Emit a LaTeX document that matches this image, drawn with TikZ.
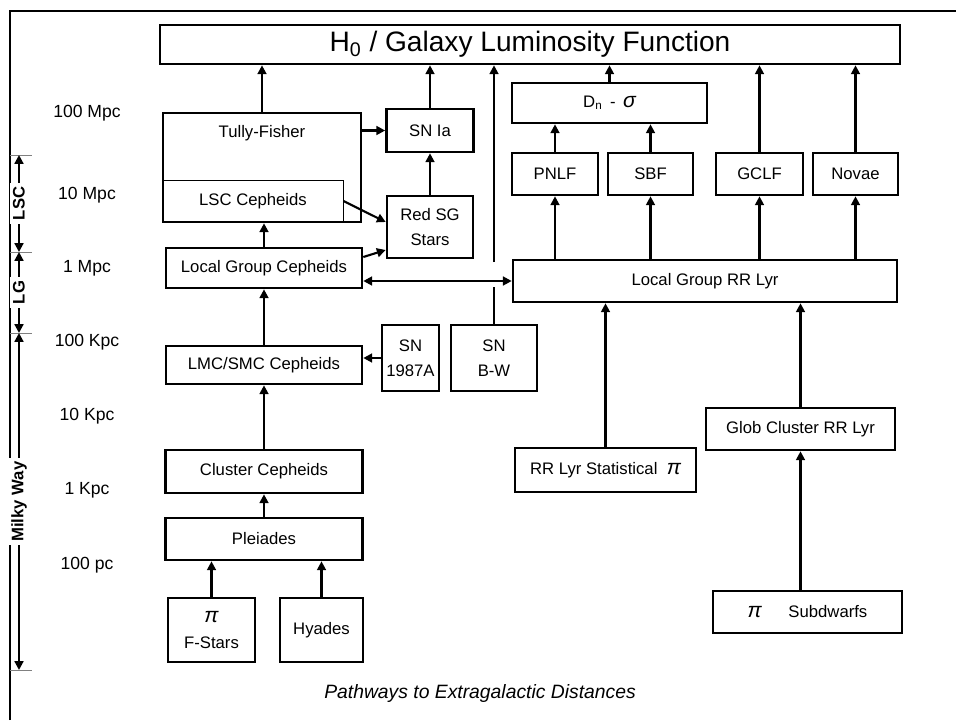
\documentclass[tikz,border=0pt]{standalone}
\usepackage{fontspec}
\setmainfont{Liberation Sans}
\usetikzlibrary{arrows.meta}

\begin{document}
\begin{tikzpicture}[x=0.02cm,y=-0.02cm,
  box/.style={draw,line width=1.5pt,inner sep=0pt,align=center,font=\fontsize{9.5}{14.5}\selectfont},
  arr/.style={line width=1.2pt,-{Triangle[length=5pt,width=5pt]}},
  both/.style={line width=1.2pt,{Triangle[length=5pt,width=5pt]}-{Triangle[length=5pt,width=5pt]}},
  dist/.style={font=\fontsize{10}{12}\selectfont},
  band/.style={midway,fill=white,rotate=90,inner sep=2pt,font=\bfseries\fontsize{9.5}{11}\selectfont},
  tick/.style={gray,line width=0.5pt}]
\useasboundingbox (0,0) rectangle (956,720);
\draw[line width=1.2pt] (10,720) -- (10,11) -- (956,11);

% distance scale
\node[dist] (d1) at (87,113) {100 Mpc};
\node[dist] (d2) at (87,195) {10 Mpc};
\node[dist] (d3) at (87,268) {1 Mpc};
\node[dist] (d4) at (87,342) {100 Kpc};
\node[dist] (d5) at (87,416) {10 Kpc};
\node[dist] (d6) at (87,490) {1 Kpc};
\node[dist] (d7) at (87,565) {100 pc};
\foreach \y/\n in {155/ta,252/tb,333/tc,670/td}{
  \coordinate (\n) at (19,\y);
  \draw[tick] (10,\y) -- (32,\y);
}
\draw[both] (ta) -- (tb) node[band] {LSC};
\draw[both] (tb) -- (tc) node[band] {LG};
\draw[both] (tc) -- (td) node[band] {Milky Way};

% boxes
\node[box,minimum width=14.8cm,minimum height=0.78cm,font=\fontsize{16}{18}\selectfont] (h0) at (530,44.5) {H\textsubscript{0} / Galaxy Luminosity Function};
\node[box,minimum width=3.96cm,minimum height=2.18cm] (tf) at (262,167.5) {};
\node[font=\fontsize{9.5}{11}\selectfont] (tftext) at (262,133) {Tully-Fisher};
\node[box,line width=0.5pt,minimum width=3.6cm,minimum height=0.84cm] (lscc) at (253,201) {LSC Cepheids};
\node[box,minimum width=1.74cm,minimum height=0.86cm] (snia) at (430,130.5) {SN Ia};
\node[box,minimum width=1.72cm,minimum height=1.24cm] (redsg) at (430,227) {Red SG\\Stars};
\node[box,minimum width=3.92cm,minimum height=0.8cm] (lgc) at (264,268) {Local Group Cepheids};
\node[box,minimum width=3.92cm,minimum height=0.76cm] (lmc) at (264,365) {LMC/SMC Cepheids};
\node[box,minimum width=1.14cm,minimum height=1.32cm] (sn87) at (410.5,358) {SN\\1987A};
\node[box,minimum width=1.72cm,minimum height=1.32cm] (snbw) at (494,358) {SN\\B-W};
\node[box,minimum width=3.94cm,minimum height=0.86cm] (clc) at (264,471.5) {Cluster Cepheids};
\node[box,minimum width=3.94cm,minimum height=0.84cm] (plei) at (264,539) {Pleiades};
\node[box,minimum width=1.74cm,minimum height=1.28cm] (fstar) at (211.5,630) {{\large\itshape π}\\F-Stars};
\node[box,minimum width=1.66cm,minimum height=1.28cm] (hyad) at (321.5,630) {Hyades};

\node[box,minimum width=3.9cm,minimum height=0.8cm] (dns) at (609.5,103) {D\textsubscript{n} \,-\, {\large\itshape σ}};
\node[box,minimum width=1.72cm,minimum height=0.84cm] (pnlf) at (555,174) {PNLF};
\node[box,minimum width=1.7cm,minimum height=0.84cm] (sbf) at (650.5,174) {SBF};
\node[box,minimum width=1.74cm,minimum height=0.84cm] (gclf) at (759.5,174) {GCLF};
\node[box,minimum width=1.7cm,minimum height=0.84cm] (novae) at (855.5,174) {Novae};
\node[box,minimum width=7.68cm,minimum height=0.84cm] (lgrr) at (705,281) {Local Group RR Lyr};
\node[box,minimum width=3.62cm,minimum height=0.88cm] (rrst) at (605.5,470) {RR Lyr Statistical\ \ {\large\itshape π}};
\node[box,minimum width=3.78cm,minimum height=0.84cm] (glob) at (800.5,429) {Glob Cluster RR Lyr};
\node[box,minimum width=3.78cm,minimum height=0.84cm] (subd) at (807.5,612) {{\large\itshape π}\hspace{1.6em}Subdwarfs};

% connections
\draw[arr] (tf.north) -- (tf.north |- h0.south);
\draw[arr] (snia.north) -- (snia.north |- h0.south);
\draw[arr] (dns.north) -- (dns.north |- h0.south);
\draw[arr] (gclf.north) -- (gclf.north |- h0.south);
\draw[arr] (novae.north) -- (novae.north |- h0.south);
\draw[arr] (snia.west -| tf.east) -- (snia.west);
\draw[arr] (redsg.north) -- (snia.south);
\draw[arr] (lscc.east) -- ([yshift=0.1cm]redsg.west);
\draw[arr] ([yshift=0.22cm]lgc.east) -- ([yshift=-0.46cm]redsg.west);
\draw[arr] (lgc.north) -- (lgc.north |- tf.south);
\draw[arr] (lmc.north) -- (lgc.south);
\draw[arr] (sn87.west) -- (sn87.west -| lmc.east);
\draw[arr] (clc.north) -- (lmc.south);
\draw[arr] (plei.north) -- (clc.south);
\draw[arr] (fstar.north) -- (fstar.north |- plei.south);
\draw[arr] (hyad.north) -- (hyad.north |- plei.south);
\draw[both] (lgc.east |- lgrr.west) -- (lgrr.west);
\draw[line width=1.2pt] (snbw.north) -- ([yshift=-0.12cm]snbw.north |- lgrr.west);
\draw[arr] ([yshift=0.38cm]snbw.north |- lgrr.west) -- (snbw.north |- h0.south);
\draw[arr] (pnlf.north) -- (pnlf.north |- dns.south);
\draw[arr] (sbf.north) -- (sbf.north |- dns.south);
\foreach \b in {pnlf,sbf,gclf,novae}
  \draw[arr] (\b.south |- lgrr.north) -- (\b.south);
\draw[arr] (rrst.north) -- (rrst.north |- lgrr.south);
\draw[arr] (glob.north) -- (glob.north |- lgrr.south);
\draw[arr] (glob.south |- subd.north) -- (glob.south);

\node[font=\itshape\fontsize{11}{13}\selectfont] (cap) at (480,693) {Pathways to Extragalactic Distances};
\end{tikzpicture}
\end{document}
